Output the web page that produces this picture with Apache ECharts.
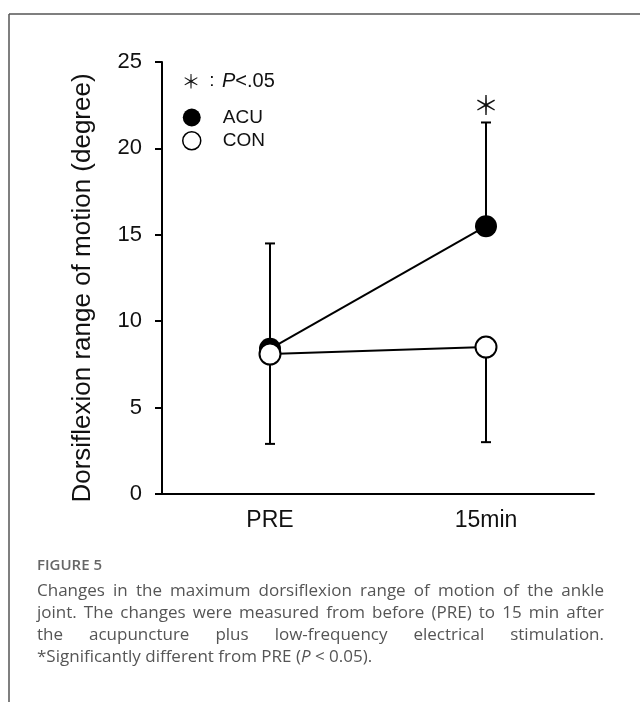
<!DOCTYPE html>
<html>
<head>
<meta charset="utf-8">
<script src="https://cdn.jsdelivr.net/npm/echarts@6/dist/echarts.min.js"></script>
<style>
html,body{margin:0;padding:0;background:#fff;}
#chart{width:640px;height:702px;}
</style>
</head>
<body>
<div id="chart"></div>
<script>
// ---- data ----
const categories = ['PRE', '15min'];
const acuMean = [8.4, 15.5];
const acuUpper = [14.5, 21.5];   // mean + SD
const conMean = [8.1, 8.5];
const conLower = [2.9, 3.0];     // mean - SD
const significance = ['', '＊'];
const yMin = 0, yMax = 25, yInterval = 5;
const yTitle = 'Dorsiflexion range of motion (degree)';
const captionHead = 'FIGURE 5';
const captionLines = [
  'Changes in the maximum dorsiflexion range of motion of the ankle',
  'joint. The changes were measured from before (PRE) to 15 min after',
  'the acupuncture plus low-frequency electrical stimulation.'
];

const chart = echarts.init(document.getElementById('chart'), null, {renderer: 'canvas'});
const SANS = 'Liberation Sans, Arial, sans-serif';

function errBar(params, api) {
  const x = api.value(0), m = api.value(1), e = api.value(2);
  const p1 = api.coord([x, m]), p2 = api.coord([x, e]);
  const st = {stroke: '#000', lineWidth: 2};
  return {type: 'group', children: [
    {type: 'line', shape: {x1: p1[0], y1: p1[1], x2: p2[0], y2: p2[1]}, style: st},
    {type: 'line', shape: {x1: p2[0] - 5, y1: p2[1], x2: p2[0] + 5, y2: p2[1]}, style: st}
  ]};
}

// caption, justified
const measure = document.createElement('canvas').getContext('2d');
const capFont = '17px "Open Sans"';
measure.font = capFont;
const capX0 = 37, capX1 = 604;
const capY = [591, 613, 635];
const graphics = [
  {type: 'line', shape: {x1: 9, y1: 14, x2: 640, y2: 14}, style: {stroke: '#555', lineWidth: 1.5}, silent: true},
  {type: 'line', shape: {x1: 9, y1: 14, x2: 9, y2: 702}, style: {stroke: '#555', lineWidth: 1.5}, silent: true},
  {type: 'text', x: 37, y: 566, style: {text: captionHead, font: '600 15px "Open Sans"', fill: '#666', verticalAlign: 'middle'}},
  {type: 'text', x: 191, y: 82, style: {text: '＊', font: '19px "Noto Sans CJK JP"', fill: '#111', align: 'center', verticalAlign: 'middle'}},
  {type: 'text', x: 212, y: 81, style: {text: ':', font: '19px ' + SANS, fill: '#111', align: 'center', verticalAlign: 'middle'}},
  {type: 'text', x: 222, y: 81, style: {text: '{i|P}{n|<.05}', rich: {i: {fontStyle: 'italic', fontSize: 20, fontFamily: SANS, fill: '#111'}, n: {fontSize: 20, fontFamily: SANS, fill: '#111'}}, verticalAlign: 'middle'}}
];
captionLines.forEach((line, li) => {
  const words = line.split(' ');
  const ws = words.map(w => measure.measureText(w).width);
  const total = ws.reduce((a, b) => a + b, 0);
  const gap = (capX1 - capX0 - total) / (words.length - 1);
  let x = capX0;
  words.forEach((w, i) => {
    graphics.push({type: 'text', x: x, y: capY[li], style: {text: w, font: capFont, fill: '#555', verticalAlign: 'middle'}});
    x += ws[i] + gap;
  });
});
graphics.push({type: 'text', x: capX0, y: 657, style: {
  text: '{n|*Significantly different from PRE (}{i|P}{n| < 0.05).}',
  rich: {n: {fontSize: 17, fontFamily: 'Open Sans', fill: '#555'}, i: {fontSize: 17, fontFamily: 'Open Sans', fontStyle: 'italic', fill: '#555'}},
  verticalAlign: 'middle'}});

const option = {
  backgroundColor: '#fff',
  animation: false,
  grid: {left: 162, top: 62, width: 432, height: 432},
  legend: {
    orient: 'vertical', left: 182, top: 108, padding: 0,
    itemWidth: 18, itemHeight: 18, itemGap: 4,
    textStyle: {fontSize: 19, color: '#111', fontFamily: SANS, padding: [0, 0, 0, 17]},
    data: [
      {name: 'ACU', icon: 'circle'},
      {name: 'CON', icon: 'circle', itemStyle: {borderWidth: 1.5, color: '#fff', borderColor: '#000'}}
    ]
  },
  xAxis: {
    type: 'category', data: categories, boundaryGap: true,
    axisLine: {lineStyle: {color: '#000', width: 2}},
    axisTick: {show: false},
    axisLabel: {fontSize: 23, color: '#111', fontFamily: SANS, margin: 15}
  },
  yAxis: {
    type: 'value', min: yMin, max: yMax, interval: yInterval,
    name: yTitle, nameLocation: 'middle', nameGap: 66,
    nameTextStyle: {fontSize: 26, color: '#111', fontFamily: SANS, padding: [0, 20, 0, 0]},
    axisLine: {show: true, lineStyle: {color: '#000', width: 2}},
    axisTick: {show: true, length: 7, lineStyle: {color: '#000', width: 2}},
    axisLabel: {fontSize: 22, color: '#111', fontFamily: SANS, margin: 20},
    splitLine: {show: false}
  },
  series: [
    {type: 'custom', name: 'acuErr', z: 1, renderItem: errBar,
      data: categories.map((c, i) => [i, acuMean[i], acuUpper[i]])},
    {type: 'custom', name: 'conErr', z: 1, renderItem: errBar,
      data: categories.map((c, i) => [i, conMean[i], conLower[i]])},
    {type: 'custom', name: 'sig', z: 1,
      renderItem: function (params, api) {
        const p = api.coord([api.value(0), api.value(1)]);
        const s = significance[params.dataIndex];
        return {type: 'text', x: p[0], y: p[1] - 17, style: {text: s, font: '26px "Noto Sans CJK JP"', fill: '#111', align: 'center', verticalAlign: 'middle'}};
      },
      data: categories.map((c, i) => [i, acuUpper[i]])},
    {type: 'line', name: 'ACU', z: 2, data: acuMean, symbol: 'circle', symbolSize: 22,
      itemStyle: {color: '#000'}, lineStyle: {color: '#000', width: 2}},
    {type: 'line', name: 'CON', z: 3, data: conMean, symbol: 'circle', symbolSize: 21,
      itemStyle: {color: '#fff', borderColor: '#000', borderWidth: 2}, lineStyle: {color: '#000', width: 2}}
  ],
  graphic: graphics
};
chart.setOption(option);
</script>
</body>
</html>
